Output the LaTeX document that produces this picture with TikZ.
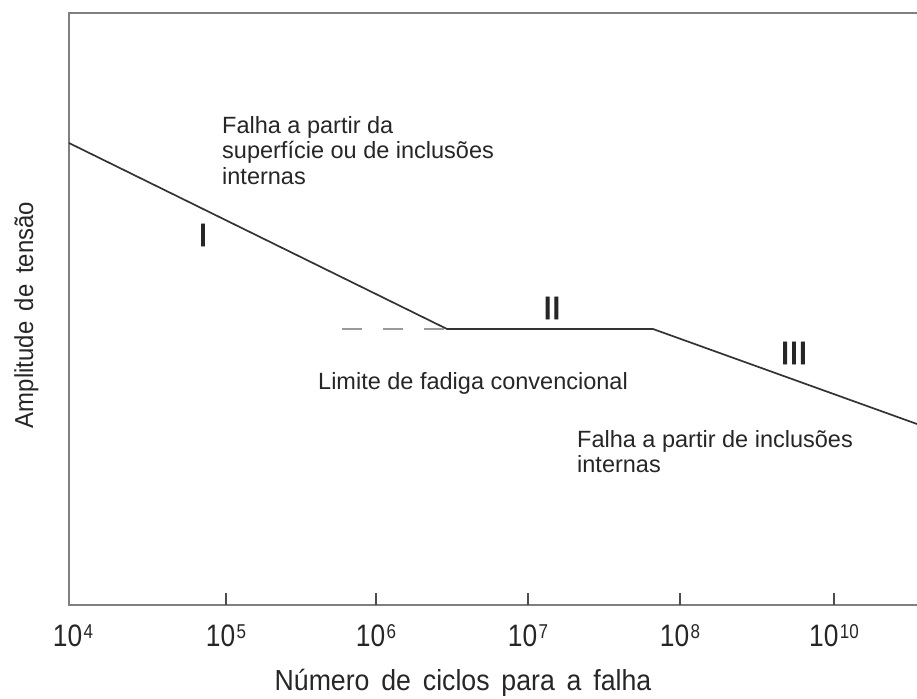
\documentclass[tikz,border=0pt]{standalone}
\usepackage{fontspec}
\setmainfont{Liberation Sans}
\newfontfamily\axisfont[FakeStretch=0.92, WordSpace=1.6]{Liberation Sans}
\newfontfamily\ticknum[FakeStretch=0.85]{Liberation Sans}
\newfontfamily\romanfont[FakeBold=3]{Liberation Sans}
\usetikzlibrary{positioning}
% power of ten under a tick
\newcommand\cyclepow[1]{10\hspace{1.5pt}\raisebox{8pt}{\fontsize{20}{20}\selectfont #1}}

\begin{document}
\begin{tikzpicture}[x=1pt, y=-1pt,
    frame/.style={draw=black!50, line width=2.4pt},
    curve/.style={draw=black!80, line width=1.7pt},
    limitdash/.style={draw=black!40, line width=2.4pt, dash pattern=on 20pt off 21pt},
    tickline/.style={draw=black!70, line width=1.4pt},
    ticklabel/.style={font=\ticknum\fontsize{31}{31}\selectfont, text=black!85, inner sep=0pt, anchor=base},
    note/.style={font=\fontsize{23.5}{25.5}\selectfont, text=black!85, align=left, inner sep=0pt},
    roman/.style={font=\romanfont\fontsize{32}{32}\selectfont, text=black!85, inner sep=0pt}]
    % picture area
    \useasboundingbox (0, 0) rectangle (917, 698);
    % frame and x-axis
    \draw [frame] (917, 13) -- (69, 13) -- (69, 605) -- (917, 605);
    % S-N curve corners
    \coordinate (start) at (69, 143);
    \coordinate (knee) at (447, 329);
    \coordinate (bend) at (653, 329);
    \coordinate (stop) at (917, 424);
    \coordinate (dashstart) at (342, 329);
    % conventional fatigue limit
    \draw [limitdash] (dashstart) -- (knee);
    % curve
    \draw [curve] (start) -- (knee) -- (bend) -- (stop);
    % ticks and labels
    \node [ticklabel] (t4) at (73, 646) {\cyclepow{4}};
    \foreach \x/\e in {226/5, 376/6, 528/7, 680/8, 834/10} {
        \draw [tickline] (\x, 605) -- (\x, 593);
        \node [ticklabel] (t\e) at (\x, 646) {\cyclepow{\e}};
    }
    % regions
    \node [roman] (regI) at (203, 235) {I};
    \node [roman] (regII) at (552, 308) {II};
    \node [roman] (regIII) at (794, 353) {III};
    % notes
    \node [note, anchor=north west] (surface) at (222, 116)
        {Falha a partir da\\superfície ou de inclusões\\internas};
    \node [note, anchor=base west] (limit) at (318, 389) {Limite de fadiga convencional};
    \node [note, anchor=north west] (internal) at (577, 430)
        {Falha a partir de inclusões\\internas};
    % axis labels
    \node [font=\axisfont\fontsize{29}{29}\selectfont, text=black!85, inner sep=0pt, anchor=base] (xlabel)
        at (463, 690) {Número de ciclos para a falha};
    \node [font=\axisfont\fontsize{26}{26}\selectfont, text=black!85, inner sep=0pt, rotate=90, anchor=base] (ylabel)
        at (33, 315) {Amplitude de tensão};
\end{tikzpicture}
\end{document}
